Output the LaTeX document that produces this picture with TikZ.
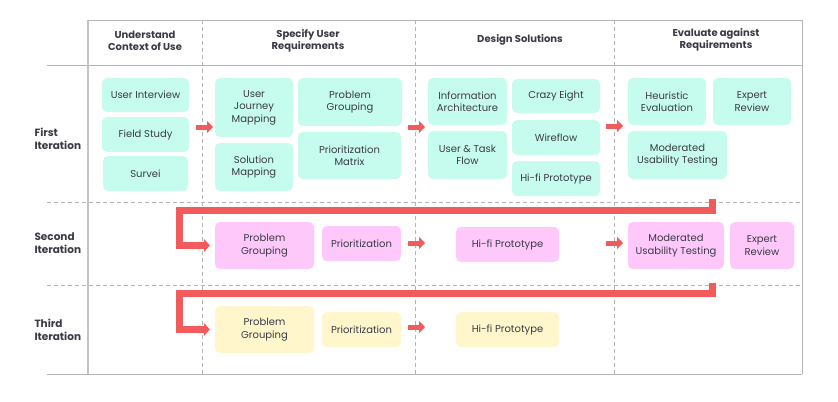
\documentclass[tikz,border=0pt]{standalone}
\usepackage{fontspec}
\setmainfont{Poppins}
\usetikzlibrary{arrows.meta}
\definecolor{teal}{HTML}{C6FCEE}
\definecolor{pinkb}{HTML}{FEC8FB}
\definecolor{yelb}{HTML}{FFF6CB}
\definecolor{redc}{HTML}{F25B5C}
\definecolor{txt}{HTML}{3A3A46}
\definecolor{gridc}{HTML}{B4B4B4}
\newcommand\cbox[7]{%
  \pgfmathsetmacro\cx{(#3+#5)/2}\pgfmathsetmacro\cy{(#4+#6)/2}%
  \pgfmathsetmacro\cw{#5-#3}\pgfmathsetmacro\ch{#6-#4}%
  \node[#1, minimum width=\cw bp, minimum height=\ch bp] (#2) at (\cx,\cy) {#7};}
\begin{document}
\begin{tikzpicture}[x=1bp,y=-1bp,
  box/.style={rounded corners=5bp, inner sep=0pt, align=center, text=txt,
    font=\fontsize{10bp}{12.5bp}\selectfont},
  tbox/.style={box, fill=teal},
  pbox/.style={box, fill=pinkb},
  ybox/.style={box, fill=yelb},
  head/.style={align=center, text=txt, font=\fontsize{10bp}{12.5bp}\selectfont\bfseries},
  rowl/.style={align=left, anchor=west, text=txt, font=\fontsize{10.5bp}{13bp}\selectfont\bfseries},
  solidl/.style={draw=gridc, line width=1bp},
  dashl/.style={draw=gridc, line width=0.9bp, dash pattern=on 4bp off 3bp},
  sarrow/.style={draw=redc, line width=5bp, -{Triangle[length=6bp 0 0, width=12bp 0 0]}},
  rarrow/.style={draw=redc, line width=7bp, miter limit=10, -{Triangle[length=6bp 0 0, width=13bp 0 0]}}
]
\useasboundingbox (0,0) rectangle (838,401);
% grid
\draw[dashl] (47,202) -- (802,202);
\draw[dashl] (47,285) -- (802,285);
\draw[dashl] (202,20) -- (202,374);
\draw[dashl] (415,20) -- (415,374);
\draw[dashl] (614,20) -- (614,374);
\draw[solidl] (88,20) -- (802,20) -- (802,374);
\draw[solidl] (47,65) -- (802,65);
\draw[solidl] (47,374) -- (802,374);
\draw[draw=gridc!80, line width=1.5bp] (88,20) -- (88,374);
% headers
\node[head] (h1) at (145,41) {Understand\\Context of Use};
\node[head] (h2) at (308,41) {Specify User\\Requirements};
\node[head] (h3) at (520,40) {Design Solutions};
\node[head] (h4) at (716,40) {Evaluate against\\Requirements};
% row labels
\node[rowl] (r1) at (31,139) {First\\Iteration};
\node[rowl] (r2) at (31,243) {Second\\Iteration};
\node[rowl] (r3) at (31,330) {Third\\Iteration};
% first row
\cbox{tbox}{ui}{102}{78}{189}{112}{User Interview}
\cbox{tbox}{fs}{102}{117}{189}{152}{Field Study}
\cbox{tbox}{sv}{103}{156}{188}{191}{Survei}
\cbox{tbox}{ujm}{215}{78}{293}{137}{User\\Journey\\Mapping}
\cbox{tbox}{sm}{215}{143}{293}{191}{Solution\\Mapping}
\cbox{tbox}{pg1}{298}{78}{402}{126}{Problem\\Grouping}
\cbox{tbox}{pm}{298}{132}{401}{179}{Prioritization\\Matrix}
\cbox{tbox}{ia}{428}{78}{507}{125}{Information\\Architecture}
\cbox{tbox}{utf}{428}{131}{507}{179}{User \& Task\\Flow}
\cbox{tbox}{ce}{512}{79}{600}{113}{Crazy Eight}
\cbox{tbox}{wf}{512}{120}{600}{155}{Wireflow}
\cbox{tbox}{hf1}{512}{161}{600}{196}{Hi-fi Prototype}
\cbox{tbox}{he}{628}{78}{706}{125}{Heuristic\\Evaluation}
\cbox{tbox}{er1}{713}{78}{791}{125}{Expert\\Review}
\cbox{tbox}{mut1}{628}{131}{727}{179}{Moderated\\Usability Testing}
% second row
\cbox{pbox}{pg2}{215}{222}{314}{269}{Problem\\Grouping}
\cbox{pbox}{pr2}{322}{226}{401}{261}{Prioritization}
\cbox{pbox}{hf2}{456}{227}{559}{262}{Hi-fi Prototype}
\cbox{pbox}{mut2}{628}{222}{724}{269}{Moderated\\Usability Testing}
\cbox{pbox}{er2}{730}{222}{794}{269}{Expert\\Review}
% third row
\cbox{ybox}{pg3}{215}{306}{314}{353}{Problem\\Grouping}
\cbox{ybox}{pr3}{322}{312}{401}{347}{Prioritization}
\cbox{ybox}{hf3}{456}{312}{559}{347}{Hi-fi Prototype}
% arrow coordinates
\coordinate (a1s) at (196,127); \coordinate (a1e) at (213,127);
\coordinate (a2s) at (408,127); \coordinate (a2e) at (425,127);
\coordinate (a3s) at (606,126); \coordinate (a3e) at (623,126);
\coordinate (b2s) at (408,243); \coordinate (b2e) at (425,243);
\coordinate (b3s) at (606,243); \coordinate (b3e) at (623,243);
\coordinate (c2s) at (408,327); \coordinate (c2e) at (425,327);
\draw[sarrow] (a1s) -- (a1e);
\draw[sarrow] (a2s) -- (a2e);
\draw[sarrow] (a3s) -- (a3e);
\draw[sarrow] (b2s) -- (b2e);
\draw[sarrow] (b3s) -- (b3e);
\draw[sarrow] (c2s) -- (c2e);
% return loops
\coordinate (l2s) at (712.5,199);
\coordinate (l3s) at (712.5,283);
\draw[rarrow] (l2s) |- (179.5,210) |- ([xshift=-5bp]pg2.west);
\draw[rarrow] (l3s) |- (179.5,293.5) |- ([xshift=-5bp]pg3.west);
\end{tikzpicture}
\end{document}
